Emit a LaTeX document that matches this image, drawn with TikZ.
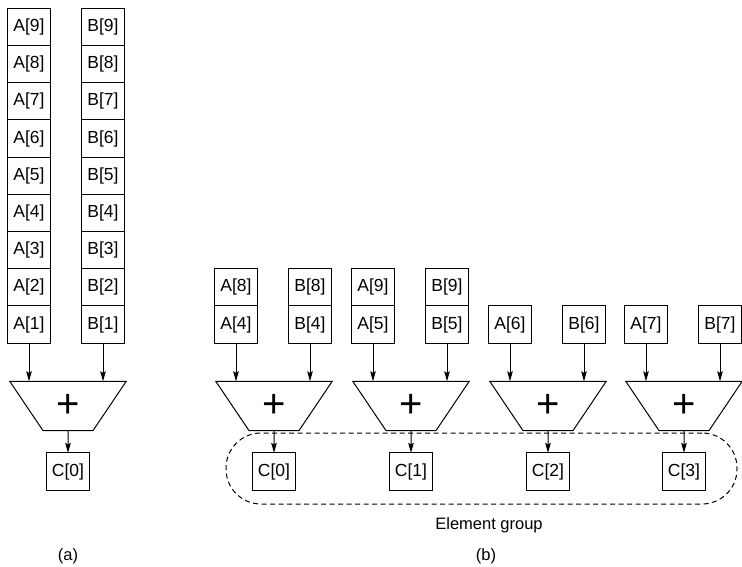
\documentclass[tikz,border=0pt]{standalone}
\usepackage{fontspec}
\setmainfont{Liberation Sans}
\usetikzlibrary{shapes.geometric, arrows.meta, positioning}

\tikzset{
    cell/.style={draw, line width=1pt, minimum width=43pt, minimum height=37.2pt, inner sep=0pt, outer sep=0pt, font=\fontsize{17.5}{19}\selectfont},
    adder/.style={draw, line width=1pt, trapezium, shape border rotate=180, trapezium angle=56, minimum width=117pt, minimum height=38pt, inner sep=0pt, outer sep=0pt, font=\fontsize{40}{40}\selectfont},
    feed/.style={line width=1pt, -{Stealth[length=10pt,width=5.5pt,inset=1.5pt]}},
    group/.style={draw, line width=1pt, dash pattern=on 5pt off 3.5pt, rounded corners=35pt, minimum width=511pt, minimum height=71pt},
    caption/.style={inner sep=0pt, font=\fontsize{16.5}{18}\selectfont}
}

\begin{document}
\begin{tikzpicture}[x=1pt, y=-1pt]
    \useasboundingbox (0,0) rectangle (742,566);

    % (a)
    \node (a1) [cell] at (29,324.5) {A[1]};
    \node (b1) [cell] at (103,324.5) {B[1]};
    \foreach \i [remember=\i as \j (initially 1)] in {2,...,9} {
        \node (a\i) [cell, above=0pt of a\j] {A[\i]};
        \node (b\i) [cell, above=0pt of b\j] {B[\i]};
    }
    \node (sum) [adder] at (68,406) {+};
    \node (c) [cell] at (68,471.5) {C[0]};
    \draw[feed] (a1) -- (a1 |- sum.north);
    \draw[feed] (b1) -- (b1 |- sum.north);
    \draw[feed] (sum.south) -- (c);
    \node (capa) [caption] at (68,556) {(a)};

    % (b)
    \foreach \g/\c/\lo in {0/274/4, 1/411/5, 2/548/6, 3/684/7} {
        \node (pa\g) [cell] at ({\c-38},324.5) {A[\lo]};
        \node (pb\g) [cell] at ({\c+36},324.5) {B[\lo]};
        \node (add\g) [adder] at (\c,406) {+};
        \node (pc\g) [cell] at (\c,471.5) {C[\g]};
        \draw[feed] (pa\g) -- (pa\g |- add\g.north);
        \draw[feed] (pb\g) -- (pb\g |- add\g.north);
        \draw[feed] (add\g.south) -- (pc\g);
    }
    \foreach \g/\hi in {0/8, 1/9} {
        \node (qa\g) [cell, above=0pt of pa\g] {A[\hi]};
        \node (qb\g) [cell, above=0pt of pb\g] {B[\hi]};
    }
    \node (grp) [group] at (481.5,468.5) {};
    \node (grplbl) [caption, below=13pt of grp, xshift=7.5pt] {Element group};
    \node (capb) [caption] at (486,556) {(b)};

\end{tikzpicture}
\end{document}
